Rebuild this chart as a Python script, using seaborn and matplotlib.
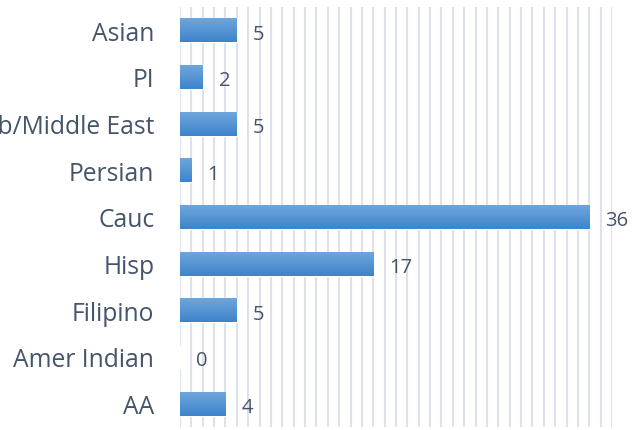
import matplotlib
matplotlib.use("Agg")
import matplotlib.pyplot as plt
import seaborn as sns
import pandas as pd
import numpy as np
from matplotlib.colors import LinearSegmentedColormap

categories = ["Asian", "PI", "Arab/Middle East", "Persian", "Cauc", "Hisp", "Filipino", "Amer Indian", "AA"]
values = [5, 2, 5, 1, 36, 17, 5, 0, 4]

sns.set_theme(style="white")
plt.rcParams['font.family'] = ['Open Sans', 'DejaVu Sans']

df = pd.DataFrame({"cat": categories, "val": values})

fig = plt.figure(figsize=(6.41, 4.31), dpi=100)
ax = fig.add_axes([180/641, 3/431, 432/641, 420/431])

sns.barplot(data=df, y="cat", x="val", order=categories, orient="h",
            color="#5b9bd5", saturation=1, width=0.51, ax=ax)

# gradient overlay for bars
grad = np.linspace(0, 1, 64).reshape(-1, 1)
cmap = LinearSegmentedColormap.from_list("g", ["#6ea6dc", "#3e84cb"])
for p in ax.patches:
    x0, y0 = p.get_x(), p.get_y()
    w, h = p.get_width(), p.get_height()
    if w <= 0:
        continue
    im = ax.imshow(grad, cmap=cmap, aspect="auto", extent=[x0, x0 + w, y0 + h, y0],
                   zorder=p.get_zorder() + 0.1, interpolation="bicubic")
    im.set_clip_path(p)

ax.set_xlim(0, 38)
ax.set_ylim(len(categories) - 0.5, -0.5)
ax.set_xticks(np.arange(0, 39, 1))
ax.xaxis.grid(True, color="#dde2ea", linewidth=1.5)
ax.set_axisbelow(True)
ax.tick_params(axis="x", labelbottom=False, length=0)
ax.tick_params(axis="y", length=0, pad=18.5, labelsize=17.7, labelcolor="#44546a")
ax.set_xlabel("")
ax.set_ylabel("")
for s in ax.spines.values():
    s.set_visible(False)

for i, v in enumerate(values):
    ax.annotate(str(v), xy=(v, i), xytext=(11.5, -2.5), textcoords="offset points",
                ha="left", va="center", fontsize=14.5, color="#44546a")

fig.savefig("out.png", dpi=100)
